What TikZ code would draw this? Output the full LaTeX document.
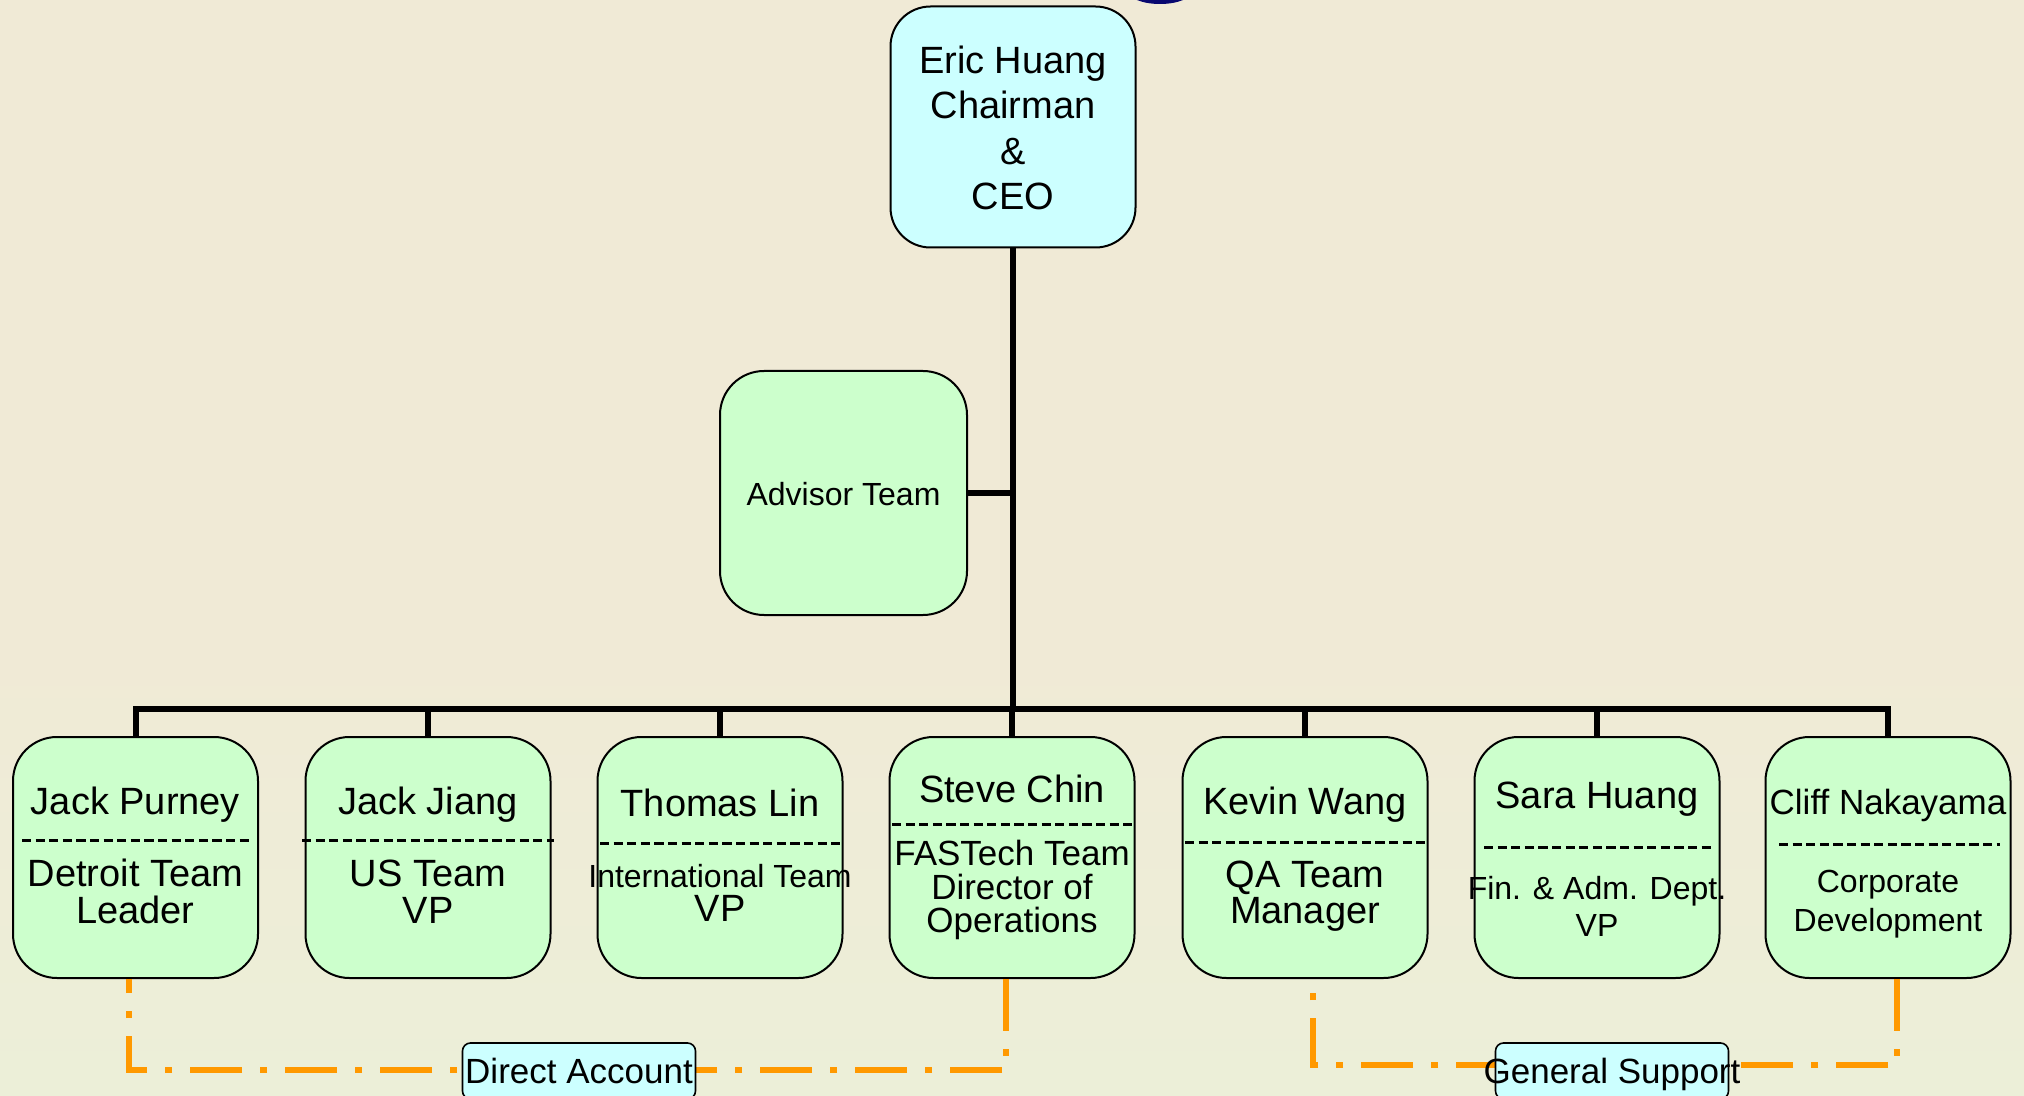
\documentclass[tikz,border=0pt]{standalone}
\usepackage{fontspec}
\setmainfont{Liberation Sans}
\definecolor{bgc}{RGB}{240,234,214}
\definecolor{bgb}{RGB}{236,239,216}
\definecolor{boxg}{RGB}{204,255,204}
\definecolor{boxc}{RGB}{204,255,255}
\definecolor{orl}{RGB}{255,153,0}
\definecolor{navyc}{RGB}{8,8,112}
\begin{document}
\begin{tikzpicture}[x=0.5pt,y=-0.5pt,
  gbox/.style={draw=black, line width=1pt, fill=boxg, rounded corners=22pt, inner sep=0pt,
               minimum width=122.5pt, minimum height=120.5pt},
  cbox/.style={gbox, fill=boxc, rounded corners=20pt},
  lbox/.style={draw=black, line width=0.8pt, fill=boxc, rounded corners=4pt, inner sep=0pt,
               minimum width=116.5pt, minimum height=28pt},
  tA/.style={anchor=mid, inner sep=0pt, yshift=-3.75pt, font=\fontsize{19}{22}\selectfont},
  tB/.style={anchor=mid, inner sep=0pt, yshift=-3.75pt, font=\fontsize{17.5}{20}\selectfont},
  tC/.style={anchor=mid, inner sep=0pt, yshift=-3.5pt, font=\fontsize{16}{19}\selectfont},
  tree/.style={line width=3pt, black, line join=miter},
  sepline/.style={line width=1.5pt, dash pattern=on 4.6pt off 2.2pt},
  orline/.style={orl, line width=3.25pt, dash pattern=on 26pt off 9pt on 3.5pt off 9pt}
]
\useasboundingbox (0,0) rectangle (2024,1096);
\clip (0,0) rectangle (2024,1096);
\fill[bgc] (0,0) rectangle (2024,1096);
\shade[top color=bgc, bottom color=bgb] (0,640) rectangle (2024,1096);
% partial blob at top edge
\fill[navyc] (1160,-10) ellipse [x radius=33, y radius=14];

% boxes
\node[cbox] (ceo) at (1013,127) {};
\node[gbox, minimum width=123.5pt, minimum height=122pt] (adv) at (843.5,493) {};
\node[gbox] (b1) at (135.5,857.5) {};
\node[gbox] (b2) at (428,857.5) {};
\node[gbox] (b3) at (720,857.5) {};
\node[gbox] (b4) at (1012,857.5) {};
\node[gbox] (b5) at (1305,857.5) {};
\node[gbox] (b6) at (1597,857.5) {};
\node[gbox] (b7) at (1888,857.5) {};

% tree connectors
\coordinate (bus) at (1013,709);
\draw[tree] (ceo.south) -- (ceo.south |- bus);
\draw[tree] (adv.east) -- (adv.east -| ceo.south);
\draw[tree] (b1.north) -- (b1.north |- bus) -- (b7.north |- bus) -- (b7.north);
\foreach \b in {b2,b3,b4,b5,b6}{\draw[tree] (\b.north) -- (\b.north |- bus);}

% texts
\node[tA] (t0a) at (1013,61) {Eric Huang};
\node[tA] (t0b) at (1013,106) {Chairman};
\node[tA] (t0c) at (1013,152) {\&};
\node[tA] (t0d) at (1013,197) {CEO};
\node[tC] (tadv) at (843.5,493) {Advisor Team};

\node[tA] (t1a) at (135.5,802) {Jack Purney};
\node[tA] (t1b) at (135.5,874) {Detroit Team};
\node[tA] (t1c) at (135.5,911) {Leader};

\node[tA] (t2a) at (428,802) {Jack Jiang};
\node[tA] (t2b) at (428,874) {US Team};
\node[tA] (t2c) at (428,911) {VP};

\node[tA] (t3a) at (720,804) {Thomas Lin};
\node[tC] (t3b) at (720,875) {International Team};
\node[tA] (t3c) at (720,909) {VP};

\node[tA] (t4a) at (1012,790) {Steve Chin};
\node[tB] (t4b) at (1012,853) {FASTech Team};
\node[tB] (t4c) at (1012,887) {Director of};
\node[tB] (t4d) at (1012,920) {Operations};

\node[tA] (t5a) at (1305,802) {Kevin Wang};
\node[tA] (t5b) at (1305,875) {QA Team};
\node[tA] (t5c) at (1305,911) {Manager};

\node[tA] (t6a) at (1597,796) {Sara Huang};
\node[tC] (t6b) at (1597,887) {Fin. \& Adm. Dept.};
\node[tC] (t6c) at (1597,924) {VP};

\node[tB] (t7a) at (1888,802) {Cliff Nakayama};
\node[tC] (t7b) at (1888,880) {Corporate};
\node[tC] (t7c) at (1888,919) {Development};

% separators
\draw[sepline] (22,840) -- (249,840);
\draw[sepline] (302,840) -- (554,840);
\draw[sepline] (600,843) -- (840,843);
\draw[sepline] (892,824) -- (1133,824);
\draw[sepline] (1185,842) -- (1425,842);
\draw[sepline] (1484,847) -- (1712,847);
\draw[sepline] (1779,844) -- (2000,844);

% orange dash-dot connectors
\coordinate (dy) at (0,1070);
\coordinate (gy) at (0,1065);
\coordinate (da1) at ([xshift=-3.25pt]b1.south);
\coordinate (da2) at ([xshift=-3pt]b4.south);
\coordinate (gs1) at ([xshift=4pt]b5.south);
\coordinate (gs2) at ([xshift=4.5pt]b7.south);
\draw[orline] (da2) -- (da2 |- dy) -- (da1 |- dy) -- (da1);
\draw[orline] (gs2) -- (gs2 |- gy) -- (gs1 |- gy) -- (gs1);

% labels
\node[lbox] (lda) at (579,1071) {};
\node[tB] (tda) at (579,1071) {Direct Account};
\node[lbox] (lgs) at (1612,1071) {};
\node[tB] (tgs) at (1612,1071) {General Support};
\end{tikzpicture}
\end{document}
